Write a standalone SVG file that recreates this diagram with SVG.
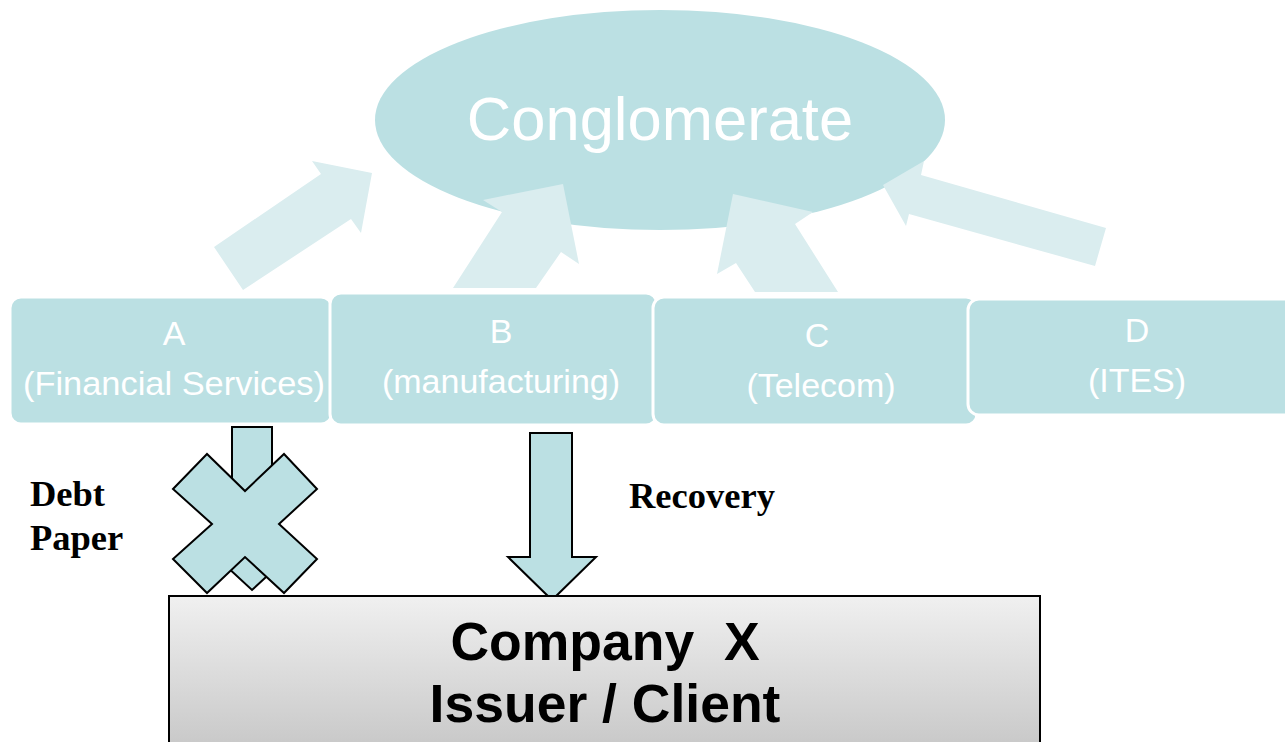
<svg xmlns="http://www.w3.org/2000/svg" width="1285" height="742" viewBox="0 0 1285 742">
<defs>
<linearGradient id="gray" x1="0" y1="0" x2="0" y2="1">
<stop offset="0" stop-color="#F0F0F0"/>
<stop offset="1" stop-color="#C6C6C6"/>
</linearGradient>
<style>
.box{fill:#BBE0E3;stroke:#FFFFFF;stroke-width:3}
.bt{font-family:"Liberation Sans",Arial,sans-serif;font-size:34px;fill:#FFFFFF;text-anchor:middle}
.la{fill:#DAEDEF}
.dk{fill:#BBE0E3;stroke:#000000;stroke-width:2;stroke-linejoin:miter}
.lbl{font-family:"Liberation Serif","Times New Roman",serif;font-weight:bold;font-size:36.5px;fill:#000000}
.ct{font-family:"Liberation Sans",Arial,sans-serif;font-weight:bold;font-size:53.5px;fill:#000000;text-anchor:middle;white-space:pre}
</style>
</defs>
<rect width="1285" height="742" fill="#FFFFFF"/>
<g id="conglomerate">
<ellipse cx="660" cy="120" rx="285" ry="110" fill="#BBE0E3"/>
<text x="660" y="140" font-family="Liberation Sans,Arial,sans-serif" font-size="61.5" fill="#FFFFFF" text-anchor="middle">Conglomerate</text>
</g>
<g id="connectors">
<polygon class="la" points="214,247 321,174 312,161 372,173 361,233 351,219 243,290"/>
<polygon class="la" points="453,288 502,212 483,200 563,184 579,264 561,252 536,288"/>
<polygon class="la" points="733,194 813,212 795,224 838,292 755,292 736,263 717,274"/>
<polygon class="la" points="883,185 924,161 921,175 1106,228 1095,266 909,214 906,226"/>
<polygon class="dk" points="232,427 272,427 272,553 292,553 252,590 212,553 232,553"/>
<polygon class="dk" points="530,433 572,433 572,557 596,557 552,600 508,557 530,557"/>
</g>
<g id="nodeA">
<rect class="box" x="10" y="297" width="322" height="127" rx="11"/>
<text class="bt" x="174" y="345">A</text>
<text class="bt" x="174" y="395" textLength="302" lengthAdjust="spacingAndGlyphs">(Financial Services)</text>
</g>
<g id="nodeB">
<rect class="box" x="330" y="293" width="327" height="132" rx="11"/>
<text class="bt" x="501" y="343">B</text>
<text class="bt" x="501" y="393">(manufacturing)</text>
</g>
<g id="nodeC">
<rect class="box" x="653" y="297" width="324" height="128" rx="11"/>
<text class="bt" x="817" y="347">C</text>
<text class="bt" x="821" y="397">(Telecom)</text>
</g>
<g id="nodeD">
<rect class="box" x="968" y="299" width="330" height="116" rx="11"/>
<text class="bt" x="1137" y="342">D</text>
<text class="bt" x="1137" y="392">(ITES)</text>
</g>
<g id="cross">
<polygon class="dk" points="173,489 207,454 245,491 284,454 317,489 279,524 317,559 284,593 245,557 207,593 173,559 212,524"/>
</g>
<g id="labels">
<text class="lbl" x="30" y="506">Debt</text>
<text class="lbl" x="30" y="550">Paper</text>
<text class="lbl" x="629" y="508">Recovery</text>
</g>
<g id="companyX">
<rect x="169" y="596" width="871" height="160" fill="url(#gray)" stroke="#000000" stroke-width="2"/>
<text class="ct" x="605" y="660">Company  X</text>
<text class="ct" x="605" y="722">Issuer / Client</text>
</g>
</svg>
